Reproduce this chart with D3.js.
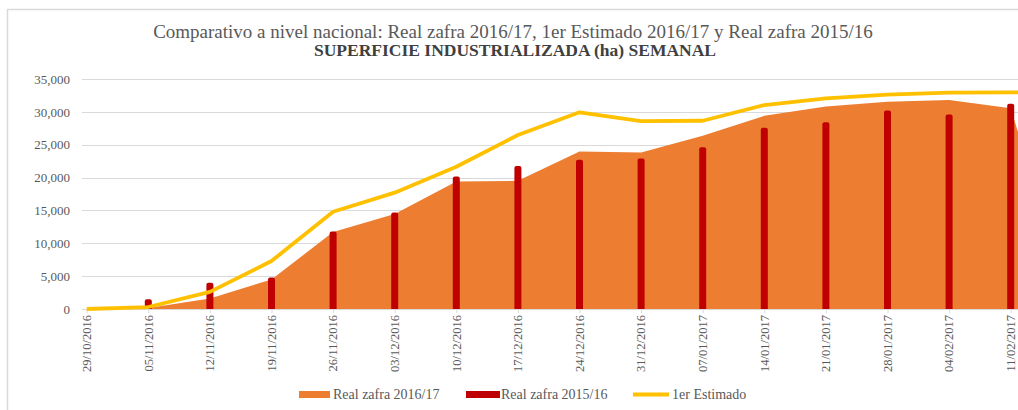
<!DOCTYPE html>
<html>
<head>
<meta charset="utf-8">
<script src="https://cdn.jsdelivr.net/npm/d3@7"></script>
<style>
  html, body { margin: 0; padding: 0; background: #fff; overflow: hidden; }
  svg { display: block; }
  text { font-family: "Liberation Serif", "Times New Roman", serif; }
</style>
</head>
<body>
<svg id="chart" width="1018" height="410"></svg>
<script>
const categories = ["29/10/2016","05/11/2016","12/11/2016","19/11/2016","26/11/2016","03/12/2016","10/12/2016","17/12/2016","24/12/2016","31/12/2016","07/01/2017","14/01/2017","21/01/2017","28/01/2017","04/02/2017","11/02/2017","18/02/2017"];
const realZafra1617 = [0,150,1600,4500,11700,14450,19400,19500,23950,23800,26350,29400,30800,31550,31800,30550,0];
const realZafra1516 = [null,1500,4000,4800,11800,14700,20150,21750,22700,22900,24600,27600,28400,30200,29600,31250,null];
const estimado = [0,300,2600,7300,14800,17700,21650,26480,29930,28600,28650,31040,32060,32620,32920,32970,33000];
const yTicks = [0,5000,10000,15000,20000,25000,30000,35000];
const titleLine1 = "Comparativo a nivel nacional: Real zafra 2016/17, 1er Estimado 2016/17 y Real zafra 2015/16";
const titleLine2 = "SUPERFICIE INDUSTRIALIZADA (ha) SEMANAL";
const legendLabels = ["Real zafra 2016/17","Real zafra 2015/16","1er Estimado"];
const colors = { area: "#ED7D31", bar: "#C00000", line: "#FFC000", grid: "#D9D9D9", text: "#595959" };

const svg = d3.select("#chart");
const plotLeft = 82, plotTop = 79, plotBottom = 309;

// frame
svg.append("rect").attr("x", 7.5).attr("y", 9.5).attr("width", 1100).attr("height", 500)
  .attr("fill", "#fff").attr("stroke", colors.grid).attr("stroke-width", 1.5);

const x = d3.scalePoint().domain(categories).range([86.7, 86.7 + 61.6 * (categories.length - 1)]);
const y = d3.scaleLinear().domain([0, 35000]).range([plotBottom, plotTop]);

// gridlines
svg.append("g").selectAll("line").data(yTicks.filter(d => d > 0)).join("line")
  .attr("x1", plotLeft).attr("x2", 1100)
  .attr("y1", d => Math.round(y(d)) + 0.5).attr("y2", d => Math.round(y(d)) + 0.5)
  .attr("stroke", colors.grid).attr("stroke-width", 1);

// y axis labels
const yAxis = d3.axisLeft(y).tickValues(yTicks).tickSize(0).tickPadding(0)
  .tickFormat(d3.format(","));
const yg = svg.append("g").attr("transform", `translate(70,0)`).call(yAxis);
yg.select(".domain").remove();
yg.selectAll("text").attr("fill", colors.text).attr("font-size", 13)
  .style("font-family", '"Liberation Serif", serif');

// area
const area = d3.area()
  .x((d, i) => x(categories[i]))
  .y0(plotBottom)
  .y1(d => y(d));
svg.append("path").datum(realZafra1617).attr("d", area).attr("fill", colors.area);

// bars
const barData = categories.map((c, i) => ({ c, v: realZafra1516[i] })).filter(d => d.v != null);
svg.append("g").selectAll("path").data(barData).join("path")
  .attr("d", d => {
    const w = 7, x0 = x(d.c) - w / 2, top = y(d.v), r = 2;
    return `M${x0},${plotBottom} L${x0},${top + r} Q${x0},${top} ${x0 + r},${top} L${x0 + w - r},${top} Q${x0 + w},${top} ${x0 + w},${top + r} L${x0 + w},${plotBottom} Z`;
  })
  .attr("fill", colors.bar);

// x axis line and ticks
svg.append("line").attr("x1", plotLeft).attr("x2", 1100)
  .attr("y1", plotBottom + 0.5).attr("y2", plotBottom + 0.5)
  .attr("stroke", colors.grid).attr("stroke-width", 1);
const xAxis = d3.axisBottom(x).tickSize(4).tickPadding(0).tickFormat("");
const xg = svg.append("g").attr("transform", `translate(0,${plotBottom})`).call(xAxis);
xg.select(".domain").remove();
xg.selectAll(".tick line").attr("stroke", colors.grid);
svg.append("g").selectAll("text").data(categories).join("text")
  .attr("transform", d => `translate(${x(d)},315) rotate(-90)`)
  .attr("text-anchor", "end").attr("dy", "0.35em")
  .attr("font-size", 12.5).attr("fill", colors.text).text(d => d);

// line
const line = d3.line().x((d, i) => x(categories[i])).y(d => y(d));
svg.append("path").datum(estimado).attr("d", line)
  .attr("fill", "none").attr("stroke", colors.line).attr("stroke-width", 3.8)
  .attr("stroke-linejoin", "round");

// titles
svg.append("text").attr("x", 513).attr("y", 38).attr("text-anchor", "middle")
  .attr("font-size", 19).attr("fill", colors.text).text(titleLine1);
svg.append("text").attr("x", 515).attr("y", 56).attr("text-anchor", "middle")
  .attr("font-size", 17.5).attr("font-weight", "bold").attr("fill", "#404040").text(titleLine2);

// legend
const lg = svg.append("g");
lg.append("rect").attr("x", 299).attr("y", 391).attr("width", 31).attr("height", 7).attr("fill", colors.area);
lg.append("text").attr("x", 333).attr("y", 399).attr("font-size", 14).attr("fill", colors.text).text(legendLabels[0]);
lg.append("rect").attr("x", 466).attr("y", 391).attr("width", 34).attr("height", 7).attr("fill", colors.bar);
lg.append("text").attr("x", 501).attr("y", 399).attr("font-size", 14).attr("fill", colors.text).text(legendLabels[1]);
lg.append("line").attr("x1", 633).attr("x2", 669).attr("y1", 394.5).attr("y2", 394.5)
  .attr("stroke", colors.line).attr("stroke-width", 3.8);
lg.append("text").attr("x", 672).attr("y", 399).attr("font-size", 14).attr("fill", colors.text).text(legendLabels[2]);
</script>
</body>
</html>
